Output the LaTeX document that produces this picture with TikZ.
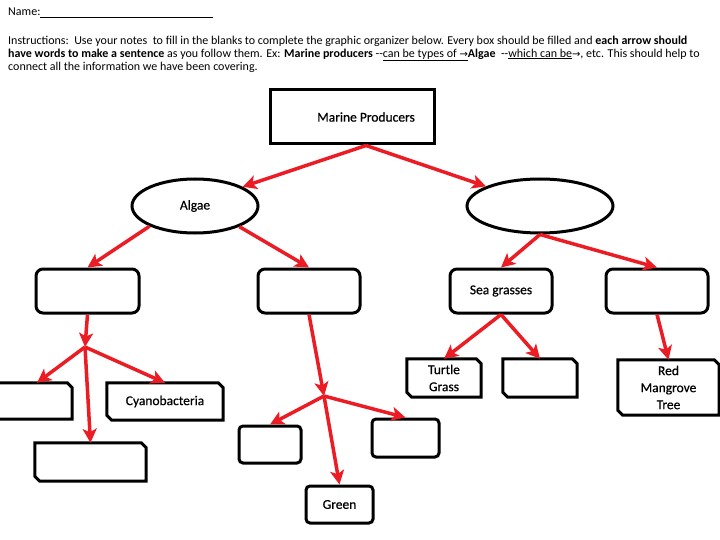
\documentclass[tikz,border=0pt]{standalone}
\usepackage{fontspec}
\setmainfont{Carlito}
\newfontfamily\lblfont[FakeBold=0.6]{Carlito}
\newfontfamily\arrowfont{DejaVu Sans}
\newcommand{\rarr}{{\arrowfont\fontsize{10}{13}\selectfont →}}
\usetikzlibrary{arrows.meta,shapes.geometric}
\definecolor{arrowred}{RGB}{235,28,36}
\begin{document}
\begin{tikzpicture}[x=1pt,y=-1pt,
  hdr/.style={inner sep=0pt,align=left,font=\fontsize{12}{13}\selectfont},
  lbl/.style={font=\lblfont\fontsize{13.5}{17}\selectfont,align=center},
  sqbox/.style={lbl,draw=black,line width=3pt,inner sep=0pt},
  rbox/.style={sqbox,rounded corners=7pt},
  sbox/.style={sqbox,rounded corners=4pt},
  ovalbox/.style={lbl,ellipse,draw=black,line width=3pt,inner sep=0pt},
  cbox/.style={lbl,draw=none,inner sep=0pt},
  outline/.style={draw=black,line width=3pt,line join=miter},
  conn/.style={draw=arrowred,line width=3.5pt,-{Stealth[length=14pt,width=14pt,inset=3.5pt]}}
]
\useasboundingbox (0,0) rectangle (720,540);

% header
\node[hdr,anchor=west] (name) at (8,12.7) {Name:\underline{\hspace{173pt}}};
\node[hdr,anchor=north west] (instr) at (8,35.5) {Instructions:\ \ Use your notes\ \ to fill in the blanks to complete the graphic organizer below. Every box should be filled and \textbf{each arrow should}\\
\textbf{have words to make a sentence} as you follow them. Ex: \textbf{Marine producers} -{}-\underline{can be types of \rarr}\textbf{Algae}\ \ -{}-\underline{which can be}\rarr, etc. This should help to\\
connect all the information we have been covering.};

% level 0 / 1
\node[sqbox,minimum width=164pt,minimum height=54pt] (mp) at (352,117) {\hspace*{28pt}Marine Producers};
\node[ovalbox,minimum width=126pt,minimum height=54pt] (algae) at (195,206) {Algae};
\node[ovalbox,minimum width=146pt,minimum height=54pt] (e2) at (540,206) {};

% level 2
\node[rbox,minimum width=103pt,minimum height=44pt] (b1) at (87.5,291) {};
\node[rbox,minimum width=102pt,minimum height=44pt] (b2) at (309,291) {};
\node[rbox,minimum width=102pt,minimum height=44pt] (sg) at (501,291) {Sea grasses};
\node[rbox,minimum width=102pt,minimum height=44pt] (b4) at (657,291) {};

% level 3 chamfered boxes
\node[cbox,minimum width=92pt,minimum height=36pt] (lb) at (26,401) {};
\node[cbox,minimum width=116pt,minimum height=37pt] (cy) at (165,401.5) {Cyanobacteria};
\node[cbox,minimum width=111pt,minimum height=38pt] (llb) at (90.5,462) {};
\node[cbox,minimum width=74pt,minimum height=38pt] (tg) at (444,378) {Turtle\\Grass};
\node[cbox,minimum width=74pt,minimum height=38pt] (eb) at (540,378) {};
\node[cbox,minimum width=101pt,minimum height=55pt] (rm) at (668.5,387.5) {Red\\Mangrove\\Tree};
\foreach \n in {lb,cy,llb,tg,eb,rm}
  \draw[outline] (\n.north west) -- ([xshift=-5pt]\n.north east) -- ([yshift=-5pt]\n.north east)
     -- (\n.south east) -- ([xshift=5pt]\n.south west) -- ([yshift=5pt]\n.south west) -- cycle;

% level 3 small rounded boxes
\node[sbox,minimum width=62pt,minimum height=37pt] (ml) at (270,444.5) {};
\node[sbox,minimum width=67pt,minimum height=38pt] (mr) at (405.5,438) {};
\node[sbox,minimum width=67pt,minimum height=37pt] (gr) at (339.5,504.5) {Green};

% junctions
\coordinate (j1) at (85,347);
\coordinate (j2) at (324,396);

% arrows
\draw[conn] ([xshift=14pt]mp.south) -- (algae.22);
\draw[conn] ([xshift=14pt]mp.south) -- (e2.160);
\draw[conn] (algae.204) -- (b1.north);
\draw[conn] (algae.335) -- (b2.north);
\draw[conn] (e2.south) -- (sg.north);
\draw[conn] (e2.south) -- (b4.north);
\draw[conn] (b1.south) -- (j1);
\draw[conn] (j1) -- ([xshift=11pt]lb.north);
\draw[conn] (j1) -- (llb.north);
\draw[conn] (j1) -- (cy.north);
\draw[conn] (b2.south) -- (j2);
\draw[conn] (j2) -- (ml.north);
\draw[conn] (j2) -- (gr.north);
\draw[conn] (j2) -- (mr.north);
\draw[conn] (sg.south) -- (tg.north);
\draw[conn] (sg.south) -- (eb.north);
\draw[conn] (b4.south) -- (rm.north);
\end{tikzpicture}
\end{document}
